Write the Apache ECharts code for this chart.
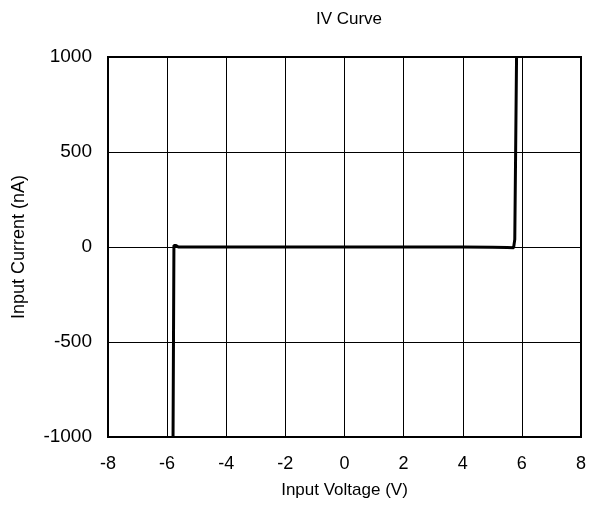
<!DOCTYPE html>
<html>
<head>
<meta charset="utf-8">
<script src="https://cdn.jsdelivr.net/npm/echarts@6/dist/echarts.min.js"></script>
<style>
  html, body { margin: 0; padding: 0; background: #fff; }
  #chart { width: 590px; height: 518px; }
</style>
</head>
<body>
<div id="chart"></div>
<script>
// IV curve: voltage (V) and current (nA)
const voltage = [-5.80, -5.77, -5.70, -5.62, -4, -2, 0, 2, 4, 5.00, 5.50, 5.72, 5.76, 5.82]
const current = [-1000, 8, 8, 0, 0, 0, 0, 0, 0, -1, -3, -4, 40, 1000]
const xTicks = [-8, 8, 2]
const yTicks = [-1000, 1000, 500]

const font = 'Liberation Sans, Arial, sans-serif'
const chart = echarts.init(document.getElementById('chart'))
chart.setOption({
  animation: false,
  title: {
    text: 'IV Curve',
    left: 344,
    textAlign: 'center',
    top: 6,
    textStyle: { fontFamily: font, fontSize: 17, fontWeight: 'normal', color: '#000' }
  },
  grid: {
    left: 108, right: 9, top: 57, bottom: 81,
    show: true, borderColor: '#000', borderWidth: 2, backgroundColor: 'transparent'
  },
  xAxis: {
    type: 'value',
    min: xTicks[0], max: xTicks[1], interval: xTicks[2],
    name: 'Input Voltage (V)',
    nameLocation: 'middle',
    nameGap: 45,
    nameTextStyle: { fontFamily: font, fontSize: 17, color: '#000' },
    axisLine: { show: false },
    axisTick: { show: false },
    axisLabel: { fontFamily: font, fontSize: 18, color: '#000', margin: 18, formatter: v => String(v) },
    splitLine: { show: true, lineStyle: { color: '#000', width: 1 } }
  },
  yAxis: {
    type: 'value',
    min: yTicks[0], max: yTicks[1], interval: yTicks[2],
    name: 'Input Current (nA)',
    nameLocation: 'middle',
    nameGap: 80,
    nameTextStyle: { fontFamily: font, fontSize: 18, color: '#000' },
    axisLine: { show: false },
    axisTick: { show: false },
    axisLabel: { fontFamily: font, fontSize: 19, color: '#000', margin: 16, formatter: v => String(v) },
    splitLine: { show: true, lineStyle: { color: '#000', width: 1 } }
  },
  series: [{
    type: 'line',
    data: voltage.map((v, i) => [v, current[i]]),
    showSymbol: false,
    lineStyle: { color: '#000', width: 3 },
    clip: true
  }]
})
</script>
</body>
</html>
